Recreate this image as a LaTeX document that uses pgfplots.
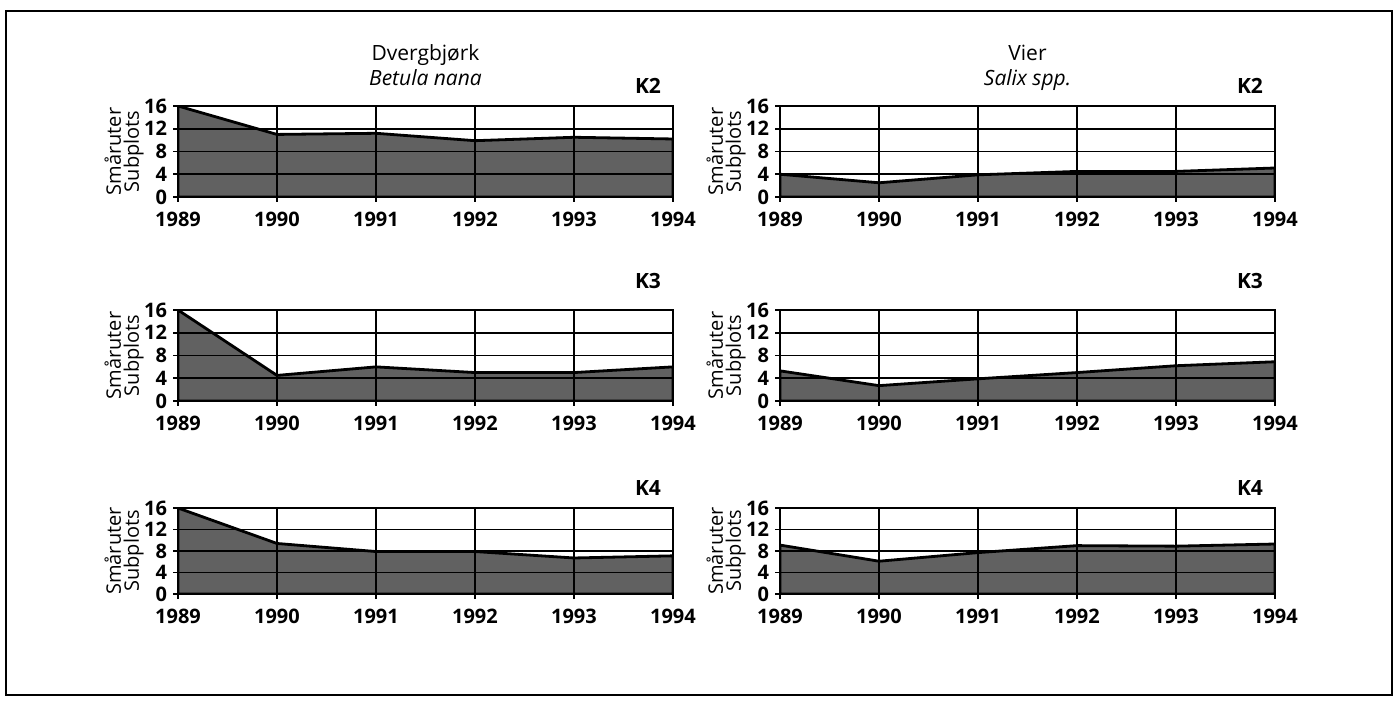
\documentclass[border=0pt]{standalone}
\usepackage{pgfplots}
\pgfplotsset{compat=1.18}
\usepackage{fontspec}
\setmainfont{Open Sans}

\pgfplotsset{
  panel/.style={
    scale only axis, width=247.5pt, height=45.5pt, anchor=south west,
    xmin=1989, xmax=1994, ymin=0, ymax=16,
    xtick={1989,...,1994}, ytick={0,4,...,16},
    xtick pos=left, ytick pos=left,
    grid=major, major grid style={black, line width=0.9pt},
    axis line style={black, line width=0.9pt},
    tick style={black, line width=0.9pt},
    tick align=outside, major tick length=2.5pt,
    /pgf/number format/assume math mode=true,
    /pgf/number format/1000 sep={},
    ticklabel style={font=\fontsize{10}{10}\selectfont\bfseries},
    xticklabel style={yshift=-1.5pt},
    yticklabel style={xshift=0.5pt},
    ylabel={Småruter\\Subplots},
    ylabel style={at={(axis description cs:-0.109,0.5)}, anchor=center,
      align=center, font=\fontsize{10}{9}\selectfont},
    axis on top,
    clip mode=individual,
  },
  area/.style={fill=black!62, draw=black, line width=1.4pt},
}
\tikzset{
  plotname/.style={anchor=base east, font=\fontsize{10.5}{12}\selectfont\bfseries},
  heading/.style={anchor=base, font=\fontsize{10.5}{12}\selectfont},
}

\begin{document}
\begin{tikzpicture}
\path[use as bounding box] (0,0) rectangle (699pt,351pt);
\draw[line width=0.8pt] (3pt,345.5pt) rectangle (696pt,3.5pt);

% Dvergbjørk, K2
\begin{axis}[panel, at={(89pt,252.5pt)}]
\addplot[area] coordinates {(1989,16) (1990,11) (1991,11.2) (1992,9.9) (1993,10.5) (1994,10.2)} \closedcycle;
\node[heading] at (axis description cs:0.5,1) [yshift=22.5pt] {Dvergbjørk};
\node[heading, font=\fontsize{10.5}{12}\selectfont\itshape] at (axis description cs:0.5,1) [yshift=10pt] {Betula nana};
\node[plotname] at (axis description cs:1,1) [xshift=-2.5pt, yshift=6pt] {K2};
\end{axis}

% Vier, K2
\begin{axis}[panel, at={(390pt,252.5pt)}]
\addplot[area] coordinates {(1989,4) (1990,2.5) (1991,3.9) (1992,4.5) (1993,4.5) (1994,5.1)} \closedcycle;
\node[heading] at (axis description cs:0.5,1) [yshift=22.5pt] {Vier};
\node[heading, font=\fontsize{10.5}{12}\selectfont\itshape] at (axis description cs:0.5,1) [yshift=10pt] {Salix spp.};
\node[plotname] at (axis description cs:1,1) [xshift=-2.5pt, yshift=6pt] {K2};
\end{axis}

% Dvergbjørk, K3
\begin{axis}[panel, at={(89pt,150.5pt)}]
\addplot[area] coordinates {(1989,16) (1990,4.5) (1991,6.0) (1992,5.0) (1993,5.0) (1994,6.0)} \closedcycle;
\node[plotname] at (axis description cs:1,1) [xshift=-2.5pt, yshift=10.5pt] {K3};
\end{axis}

% Vier, K3
\begin{axis}[panel, at={(390pt,150.5pt)}]
\addplot[area] coordinates {(1989,5.3) (1990,2.7) (1991,3.9) (1992,5.0) (1993,6.2) (1994,6.9)} \closedcycle;
\node[plotname] at (axis description cs:1,1) [xshift=-2.5pt, yshift=10.5pt] {K3};
\end{axis}

% Dvergbjørk, K4
\begin{axis}[panel, at={(89pt,54pt)}, height=43pt]
\addplot[area] coordinates {(1989,16) (1990,9.4) (1991,7.9) (1992,7.9) (1993,6.7) (1994,7.1)} \closedcycle;
\node[plotname] at (axis description cs:1,1) [xshift=-2.5pt, yshift=6pt] {K4};
\end{axis}

% Vier, K4
\begin{axis}[panel, at={(390pt,54pt)}, height=43pt]
\addplot[area] coordinates {(1989,9.1) (1990,6.1) (1991,7.7) (1992,9.0) (1993,8.9) (1994,9.3)} \closedcycle;
\node[plotname] at (axis description cs:1,1) [xshift=-2.5pt, yshift=6pt] {K4};
\end{axis}
\end{tikzpicture}
\end{document}
